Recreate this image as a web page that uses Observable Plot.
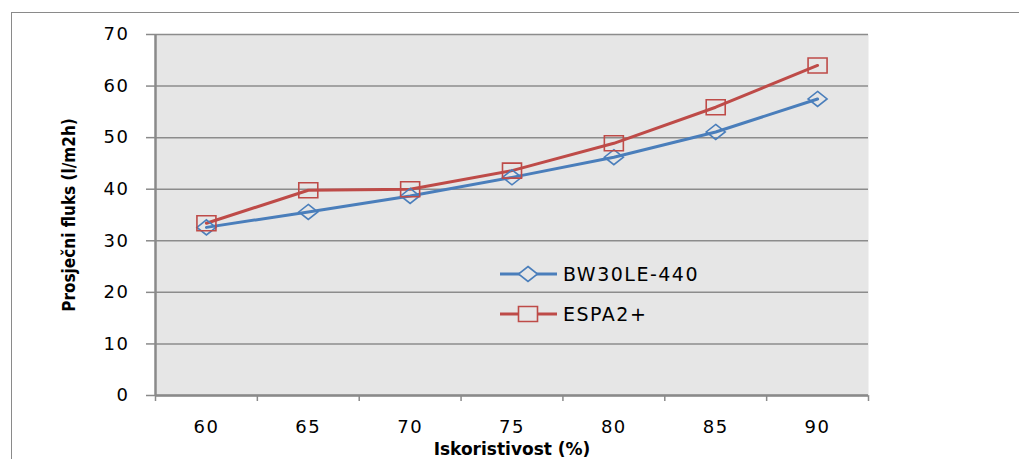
<!DOCTYPE html>
<html>
<head>
<meta charset="utf-8">
<script src="https://cdn.jsdelivr.net/npm/d3@7"></script>
<script src="https://cdn.jsdelivr.net/npm/@observablehq/plot@0.6"></script>
<style>
  body { margin: 0; background: #fff; }
  #wrap { position: relative; width: 1019px; height: 459px; overflow: hidden; }
  #border { position: absolute; left: 11px; top: 12px; width: 1100px; height: 500px; border: 1px solid #8a8a8a; box-sizing: border-box; }
  #chart { position: absolute; left: 0; top: 0; }
  #chart svg .tick line, #chart svg [aria-label$="tick"] path { stroke: #8a8a8a; stroke-width: 1.5px; }
  #legend { position: absolute; left: 500px; top: 254px; font-family: "DejaVu Sans", sans-serif; font-size: 19px; letter-spacing: 1.5px; color: #000; }
  #legend .item { display: flex; align-items: center; height: 40px; }
  #legend svg { margin-right: 6px; }
</style>
</head>
<body>
<div id="wrap">
  <div id="border"></div>
  <div id="chart"></div>
  <div id="legend"></div>
</div>
<script>
// ---- data ----
const categories = [60, 65, 70, 75, 80, 85, 90];
const bw30le440 = [32.6, 35.6, 38.7, 42.3, 46.2, 51.1, 57.5];
const espa2plus = [33.4, 39.8, 40.0, 43.6, 48.9, 55.9, 64.0];
const seriesNames = ["BW30LE-440", "ESPA2+"];
const seriesColors = ["#4a7ebb", "#be4b48"];
const yTicks = [0, 10, 20, 30, 40, 50, 60, 70];
const xTitle = "Iskoristivost (%)";
const yTitle = "Prosječni fluks (l/m2h)";

// ---- derived ----
const step = categories[1] - categories[0];
const xDomain = [categories[0] - step / 2, categories[categories.length - 1] + step / 2];
const boundaries = [...categories.map(c => c - step / 2), xDomain[1]];
const rowsA = categories.map((c, i) => ({x: c, y: bw30le440[i]}));
const rowsB = categories.map((c, i) => ({x: c, y: espa2plus[i]}));

const HW = 9.5, HH = 7.5;
const diamond = {draw(ctx) { ctx.moveTo(0, -HH); ctx.lineTo(HW, 0); ctx.lineTo(0, HH); ctx.lineTo(-HW, 0); ctx.closePath(); }};
const square = {draw(ctx) { ctx.moveTo(-HW, -HH); ctx.lineTo(HW, -HH); ctx.lineTo(HW, HH); ctx.lineTo(-HW, HH); ctx.closePath(); }};

const chart = Plot.plot({
  width: 1019,
  height: 459,
  marginLeft: 155,
  marginRight: 151,
  marginTop: 34,
  marginBottom: 64,
  style: {fontFamily: "DejaVu Sans, sans-serif", fontSize: "18px", color: "#000", background: "transparent", overflow: "visible"},
  x: {type: "linear", domain: xDomain, ticks: boundaries, tickFormat: () => "", tickSize: 6, label: null},
  y: {domain: [0, 70], ticks: yTicks, tickSize: 9, tickPadding: 17, label: null},
  marks: [
    Plot.frame({fill: "#e6e6e6", stroke: "none"}),
    Plot.ruleY(yTicks, {stroke: "#8c8c8c", strokeWidth: 1.5}),
    Plot.ruleY([0], {stroke: "#8a8a8a", strokeWidth: 2.5}),
    Plot.ruleX([xDomain[0]], {stroke: "#8a8a8a", strokeWidth: 2.5}),
    Plot.line(rowsA, {x: "x", y: "y", stroke: seriesColors[0], strokeWidth: 3}),
    Plot.line(rowsB, {x: "x", y: "y", stroke: seriesColors[1], strokeWidth: 3}),
    Plot.dot(rowsA, {x: "x", y: "y", symbol: diamond, stroke: seriesColors[0], strokeWidth: 1.6, fill: "none"}),
    Plot.dot(rowsB, {x: "x", y: "y", symbol: square, stroke: seriesColors[1], strokeWidth: 1.6, fill: "none"}),
    Plot.text(categories, {x: d => d, frameAnchor: "bottom", dy: 32, lineAnchor: "middle", textAnchor: "middle", text: d => String(d), fontSize: 18, fill: "#000"}),
    Plot.text([xTitle], {frameAnchor: "bottom", dy: 54, lineAnchor: "middle", textAnchor: "middle", text: d => d, fontSize: 17, fontWeight: "bold", fontFamily: "DejaVu Sans, sans-serif", fill: "#000"}),
    Plot.text([yTitle], {frameAnchor: "left", dx: -86, rotate: -90, lineAnchor: "middle", textAnchor: "middle", text: d => d, fontSize: 17, fontWeight: "bold", fontFamily: "DejaVu Sans Condensed, DejaVu Sans, sans-serif", fill: "#000"})
  ]
});
document.getElementById("chart").appendChild(chart);
// widen number labels (ticks and categories) slightly, keep titles unspaced
d3.select(chart).selectAll("text")
  .style("letter-spacing", function () { return (this.textContent === xTitle || this.textContent === yTitle) ? "0px" : "1.5px"; });

// ---- legend ----
const legend = document.getElementById("legend");
const symbolPaths = [
  `M28,${14 - HH} L${28 + HW},14 L28,${14 + HH} L${28 - HW},14 Z`,
  `M${28 - HW},${14 - HH} H${28 + HW} V${14 + HH} H${28 - HW} Z`
];
seriesNames.forEach((name, i) => {
  const item = document.createElement("div");
  item.className = "item";
  item.innerHTML = `<svg width="57" height="28"><line x1="0" x2="57" y1="14" y2="14" stroke="${seriesColors[i]}" stroke-width="3"/><path d="${symbolPaths[i]}" fill="#e6e6e6" stroke="${seriesColors[i]}" stroke-width="1.6"/></svg><span>${name}</span>`;
  legend.appendChild(item);
});
</script>
</body>
</html>
